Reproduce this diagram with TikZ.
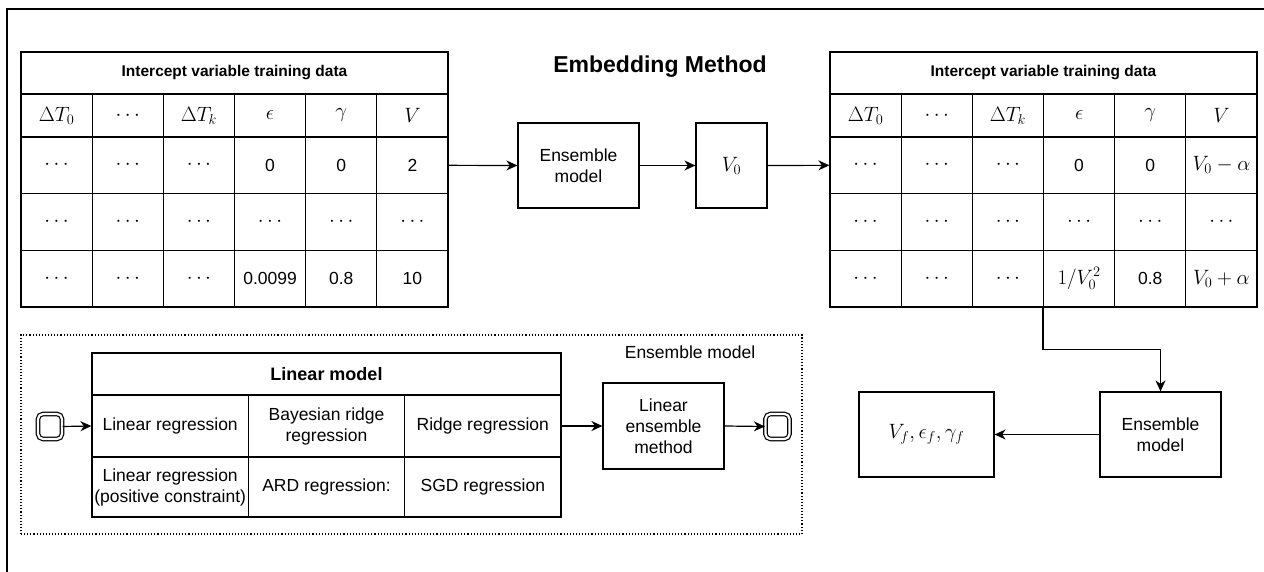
\documentclass[tikz,border=0pt]{standalone}
\usepackage{fontspec}
\setmainfont{Liberation Sans}
\usetikzlibrary{arrows.meta}
\newcommand\myfs{\fontsize{17.5}{21}\selectfont}
\newcommand\mathfs{\fontsize{21.5}{25}\selectfont}
\newcommand\tblrow[7]{%
  \foreach \t [count=\i] in {#7} {%
    \node[cell, minimum width=#6pt, minimum height=#5pt] (#1-#2-\i) at ({#3+(\i-0.5)*#6},#4) {\t};}}
\begin{document}
\begin{tikzpicture}[x=1pt,y=-1pt,
  every node/.style={font=\myfs},
  cell/.style={draw, line width=1.2pt, inner sep=0pt, align=center},
  ttl/.style={cell, font=\bfseries\fontsize{15.5}{18}\selectfont},
  box/.style={draw, line width=1.2pt, inner sep=2pt, align=center},
  mbox/.style={box, font=\fontsize{21}{24}\selectfont},
  term/.style={draw, line width=1.2pt, double, double distance=2.2pt, rounded corners=5pt, minimum width=24pt, minimum height=25pt, inner sep=0pt},
  arr/.style={line width=1.2pt, -{Stealth[length=11pt,width=10pt,inset=3.5pt]}},
  ]
\useasboundingbox (0,0) rectangle (1264,572);
% outer frame (cropped)
\draw[line width=1.2pt] (7,572) -- (7,9) -- (1264,9);

% title
\node[font=\bfseries\fontsize{23}{26}\selectfont] (title) at (660,67) {Embedding Method};

% left table
\node[ttl, minimum width=427pt, minimum height=42pt] (L-t) at (234.5,73) {Intercept variable training data};
\tblrow{L}{0}{21}{115.5}{43}{71.17}{{\mathfs$\Delta T_0$},{\mathfs$\cdots$},{\mathfs$\Delta T_k$},{\mathfs$\epsilon$},{\mathfs$\gamma$},{\mathfs$V$}}
\tblrow{L}{1}{21}{165.33}{56.67}{71.17}{{\mathfs$\cdots$},{\mathfs$\cdots$},{\mathfs$\cdots$},0,0,2}
\tblrow{L}{2}{21}{222}{56.67}{71.17}{{\mathfs$\cdots$},{\mathfs$\cdots$},{\mathfs$\cdots$},{\mathfs$\cdots$},{\mathfs$\cdots$},{\mathfs$\cdots$}}
\tblrow{L}{3}{21}{278.67}{56.67}{71.17}{{\mathfs$\cdots$},{\mathfs$\cdots$},{\mathfs$\cdots$},0.0099,0.8,10}

% right table
\node[ttl, minimum width=427pt, minimum height=42pt] (R-t) at (1043.5,73) {Intercept variable training data};
\tblrow{R}{0}{830}{115.5}{43}{71.17}{{\mathfs$\Delta T_0$},{\mathfs$\cdots$},{\mathfs$\Delta T_k$},{\mathfs$\epsilon$},{\mathfs$\gamma$},{\mathfs$V$}}
\tblrow{R}{1}{830}{165.33}{56.67}{71.17}{{\mathfs$\cdots$},{\mathfs$\cdots$},{\mathfs$\cdots$},0,0,{\mathfs$V_0-\alpha$}}
\tblrow{R}{2}{830}{222}{56.67}{71.17}{{\mathfs$\cdots$},{\mathfs$\cdots$},{\mathfs$\cdots$},{\mathfs$\cdots$},{\mathfs$\cdots$},{\mathfs$\cdots$}}
\tblrow{R}{3}{830}{278.67}{56.67}{71.17}{{\mathfs$\cdots$},{\mathfs$\cdots$},{\mathfs$\cdots$},{\mathfs$1/V_0^2$},0.8,{\mathfs$V_0+\alpha$}}

% middle boxes
\node[box, minimum width=121pt, minimum height=85pt] (E1) at (578.5,165.5) {Ensemble\\model};
\node[mbox, minimum width=71pt, minimum height=85pt] (V0) at (731.5,165.5) {$V_0$};

% bottom right boxes
\node[box, minimum width=121pt, minimum height=85pt] (E2) at (1160.5,434.5) {Ensemble\\model};
\node[mbox, minimum width=135pt, minimum height=85pt] (Vf) at (926.5,434.5) {$V_f, \epsilon_f, \gamma_f$};

% ensemble group
\node[draw, dotted, line width=1.1pt, minimum width=781pt, minimum height=199pt, inner sep=0pt] (grp) at (411.5,434.5) {};
\node (grplbl) at (690,352) {Ensemble model};

% linear model table
\node[cell, font=\bfseries\fontsize{18}{21}\selectfont, minimum width=469pt, minimum height=42pt] (M-t) at (326.5,374) {Linear model};
\tblrow{M}{1}{92}{426}{62}{156.33}{{Linear regression},{Bayesian ridge\\regression},{Ridge regression}}
\tblrow{M}{2}{92}{487}{60}{156.33}{{Linear regression\\(positive constraint)},{ARD regression:},{SGD regression}}

\node[box, minimum width=121pt, minimum height=86pt] (LEM) at (663.5,426) {Linear\\ensemble\\method};
\node[term] (start) at (50,426.5) {};
\node[term] (end) at (777.5,426.5) {};

% connectors
\draw[arr] (L-1-6.east) -- (E1.west);
\draw[arr] (E1.east) -- (V0.west);
\draw[arr] (V0.east) -- (R-1-1.west);
\draw[arr] (R-3-4.south west) -- ++(0,42) -| (E2.north);
\draw[arr] (E2.west) -- (Vf.east);
\draw[arr] (start.east) -- (M-1-1.west);
\draw[arr] (M-1-3.east) -- (LEM.west);
\draw[arr] (LEM.east) -- (end.west);
\end{tikzpicture}
\end{document}
